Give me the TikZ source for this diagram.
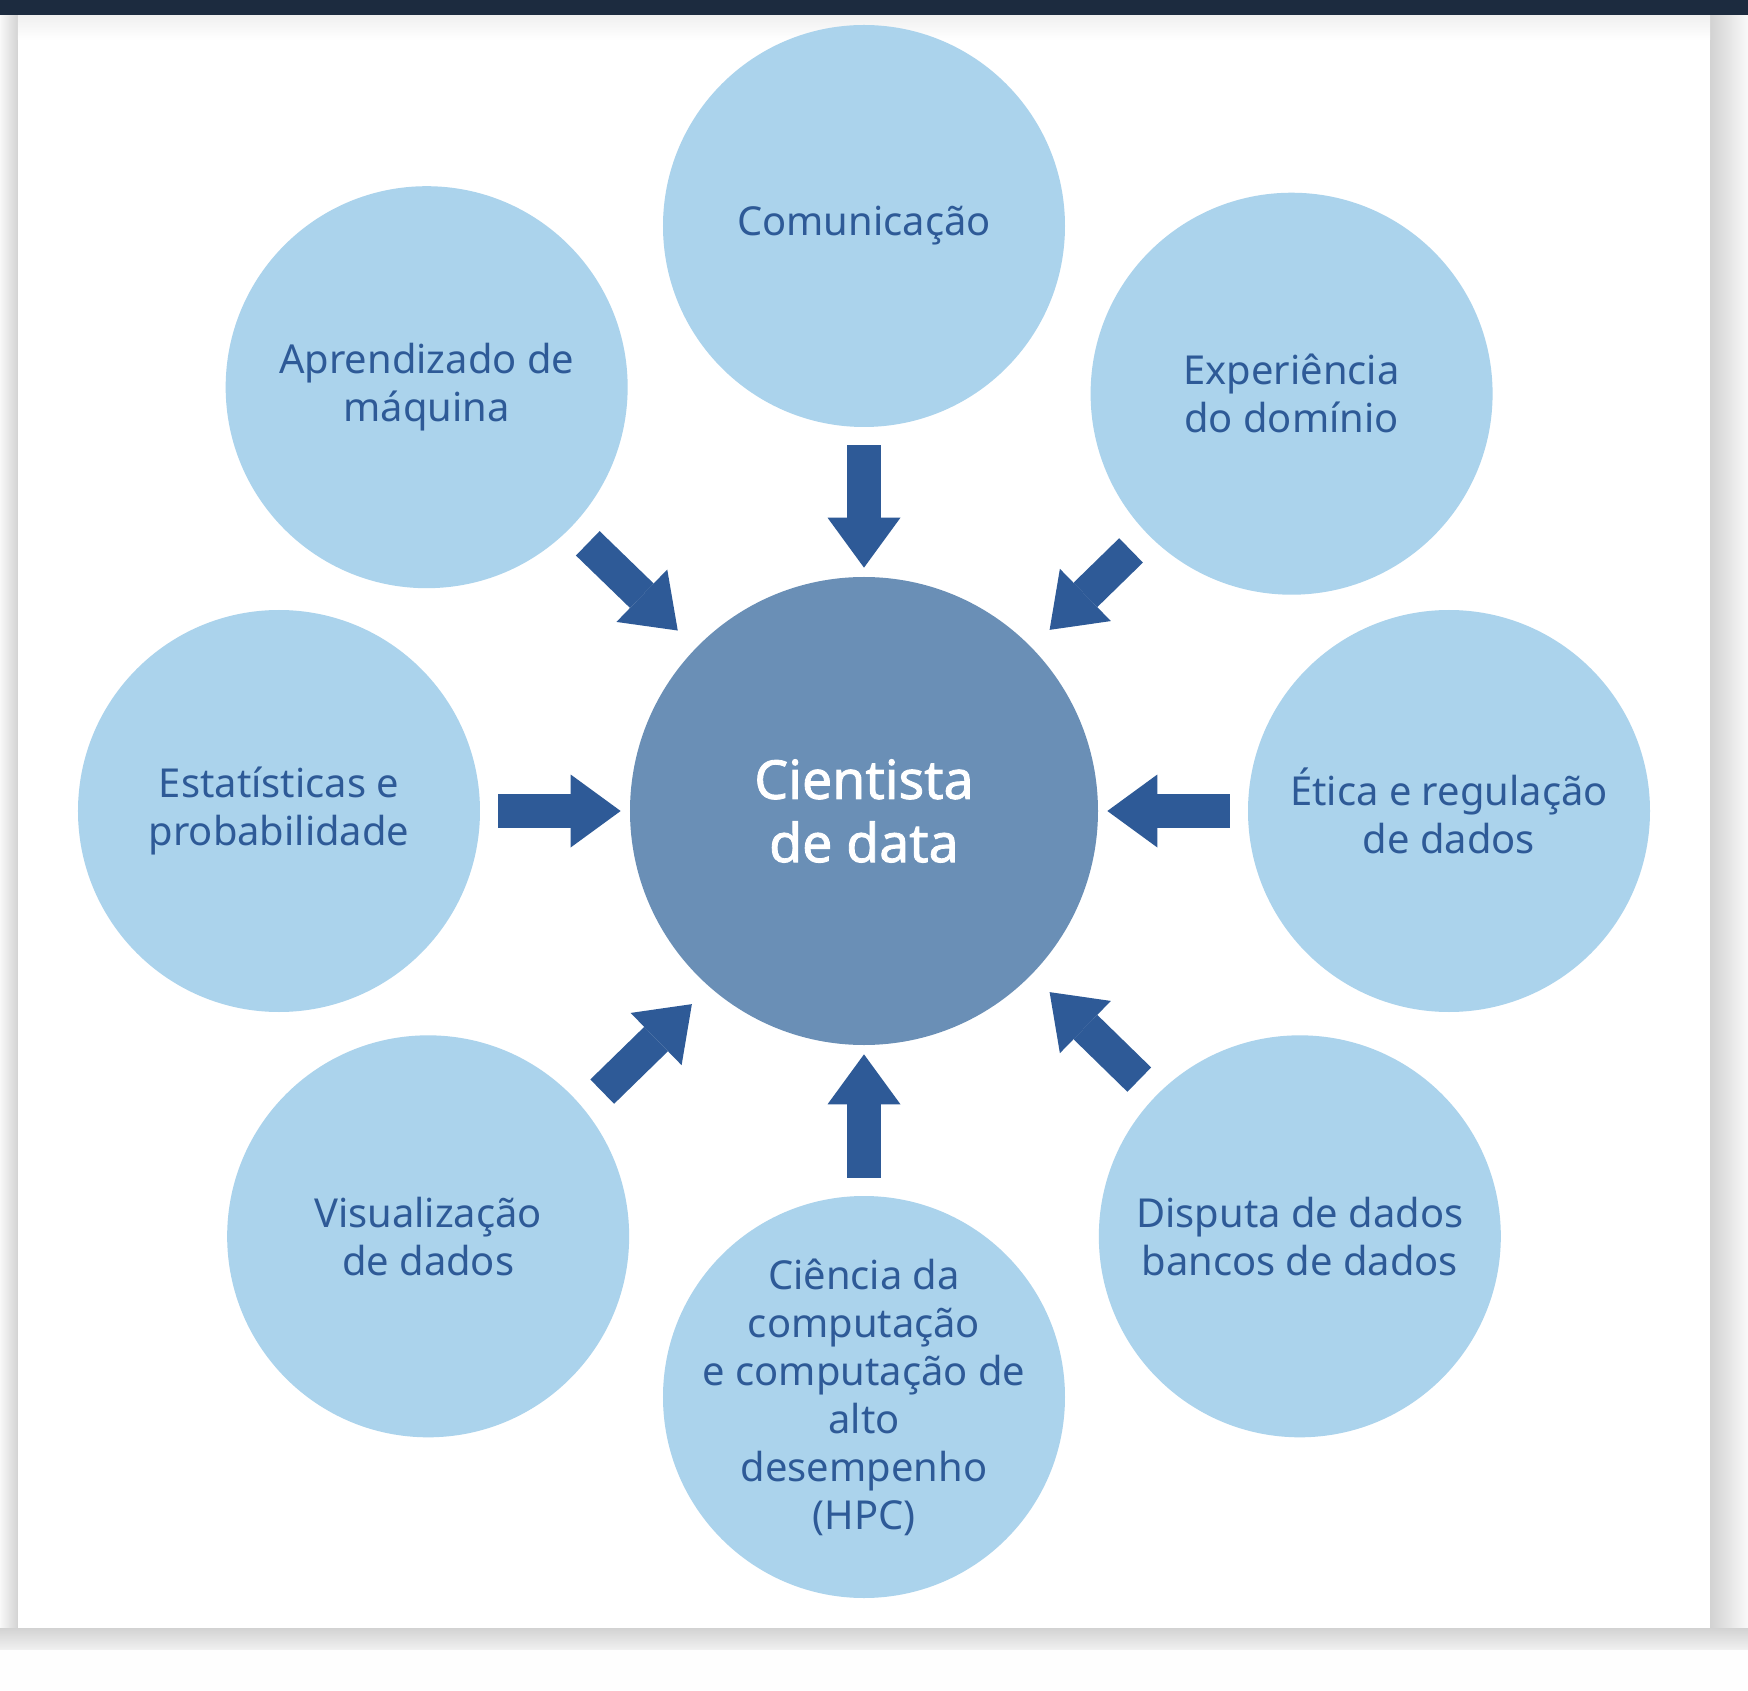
\documentclass[tikz,border=0pt]{standalone}
\usepackage{fontspec}
\setmainfont{Noto Sans}
\newfontfamily\corefont{Noto Sans}[FakeBold=1.6]
\usetikzlibrary{arrows.meta}
\definecolor{skillfill}{HTML}{ABD3EC}
\definecolor{corefill}{HTML}{6A8FB6}
\definecolor{ink}{HTML}{2E5A97}
\definecolor{topbar}{HTML}{1C2B3F}
\tikzset{
  skill/.style={circle, fill=skillfill, text=ink, minimum size=8.04cm, inner sep=0pt,
    align=center, font=\fontsize{22.7}{27.3}\selectfont},
  core/.style={circle, fill=corefill, text=white, minimum size=9.36cm, inner sep=0pt,
    align=center, font=\corefont\fontsize{30.5}{36}\selectfont},
  feed/.style={draw=ink, line width=0.68cm,
    -{Triangle[width=1.46cm, length=1cm, line width=0pt]}},
  straight/.style={feed, shorten <=0.36cm, shorten >=0.18cm},
  slant/.style={feed, shorten <=0.46cm, shorten >=0.5cm}
}
\begin{document}
\begin{tikzpicture}
  \useasboundingbox (-17.28,-17.58) rectangle (17.68,16.22);
  % page and panel
  \fill[gray!5] (-17.28,-17.58) rectangle (17.68,16.22);
  \fill[gray!1] (-17.28,-17.58) rectangle (17.68,-16.76);
  \shade[left color=gray!5, right color=gray!35] (-17.28,-16.34) rectangle (-16.92,15.92);
  \shade[left color=gray!35, right color=gray!5] (16.92,-16.34) rectangle (17.68,15.92);
  \shade[top color=gray!35, bottom color=gray!12] (-17.28,-16.76) rectangle (17.68,-16.34);
  \fill[white] (-16.92,-16.34) rectangle (16.92,15.92);
  \shade[top color=gray!12, bottom color=white] (-16.92,15.42) rectangle (16.92,15.92);
  \fill[topbar] (-17.28,15.92) rectangle (17.68,16.22);
  % circles
  \path
    (0,0) node[core] (ds){Cientista\\de data}
    (90:11.7) node[skill] (com){Comunicação}
    (135.9:12.18) node[skill] (ml){Aprendizado de\\máquina}
    (44.3:11.95) node[skill] (dom){Experiência\\do domínio}
    (180:11.7) node[skill] (stat){Estatísticas e\\probabilidade}
    (0:11.7) node[skill] (eth){Ética e regulação\\de dados}
    (224.3:12.18) node[skill] (vis){Visualização\\de dados}
    (270:11.72) node[skill, inner sep=-0.4cm] (hpc){Ciência da\\computação\\e computação de\\alto\\desempenho\\(HPC)}
    (315.7:12.18) node[skill] (db){Disputa de dados\\bancos de dados};
  % arrows into the centre
  \begin{scope}
    \draw[straight] (com) to (ds);
    \draw[straight] (stat) to (ds);
    \draw[straight] (eth) to (ds);
    \draw[straight] (hpc) to (ds);
    \draw[slant] (ml) to (ds);
    \draw[slant] (dom) to (ds);
    \draw[slant, transform canvas={shift={(0.27,-0.24)}}] (vis) to (ds);
    \draw[slant] (db) to (ds);
  \end{scope}
\end{tikzpicture}
\end{document}
